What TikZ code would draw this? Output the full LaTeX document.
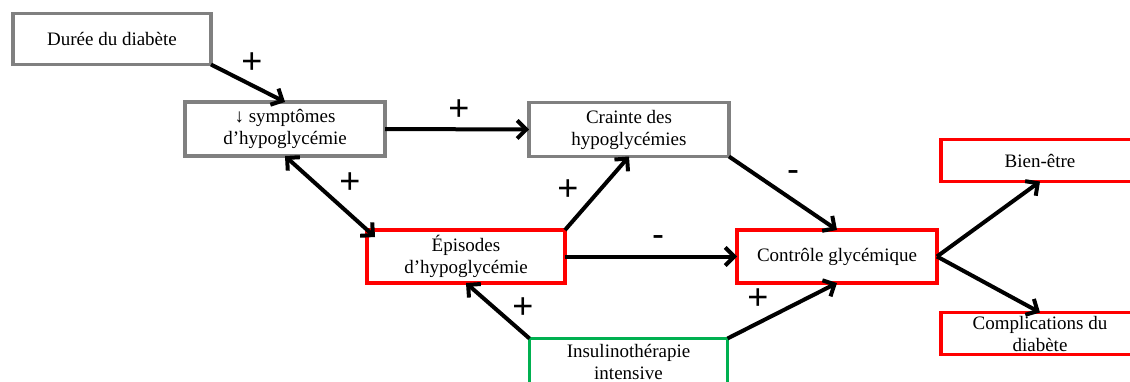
\documentclass[tikz,border=0pt]{standalone}
\usepackage{fontspec}
\setmainfont{Liberation Serif}
\newfontfamily\signfont{Liberation Sans}
\usetikzlibrary{arrows.meta,calc}
\definecolor{boxgray}{HTML}{808080}
\definecolor{boxred}{HTML}{FF0000}
\definecolor{boxgreen}{HTML}{00B050}
\tikzset{
  box/.style={draw, line width=3.5pt, rectangle, outer sep=0pt, inner sep=2pt, align=center,
    font=\fontsize{19}{22}\selectfont, fill=white},
  graybox/.style={box, draw=boxgray},
  redbox/.style={box, draw=boxred},
  greenbox/.style={box, draw=boxgreen},
  link/.style={line width=4pt, -{Straight Barb[length=9pt,width=18pt]}},
  dlink/.style={line width=4pt, {Straight Barb[length=9pt,width=18pt]}-{Straight Barb[length=9pt,width=18pt]}},
  sign/.style={font=\signfont\fontsize{36}{36}\selectfont, inner sep=0pt}
}
\begin{document}
\begin{tikzpicture}[x=1pt,y=-1pt]
\useasboundingbox (0,0) rectangle (1130,381);
\node[graybox, minimum width=198pt, minimum height=51pt] (dur) at (112,39) {Durée du diabète};
\node[graybox, minimum width=200pt, minimum height=54pt] (sym) at (285,129) {↓ symptômes\\d’hypoglycémie};
\node[graybox, minimum width=200pt, minimum height=54pt] (cra) at (629,129.5) {Crainte des\\hypoglycémies};
\node[redbox, minimum width=198pt, minimum height=53pt] (epi) at (466,256.5) {Épisodes\\d’hypoglycémie};
\node[redbox, minimum width=200pt, minimum height=53pt] (con) at (837,256.5) {Contrôle glycémique};
\node[redbox, minimum width=198pt, minimum height=42pt] (bien) at (1040,160.5) {Bien-être};
\node[redbox, minimum width=198pt, minimum height=42pt, text depth=0pt] (comp) at (1040,333.5) {Complications du\\diabète};
\node[greenbox, minimum width=198pt, minimum height=46pt] (ins) at (628.5,361.5) {Insulinothérapie\\intensive};

\draw[link] (dur.south east) -- (sym.north);
\draw[link] (sym.east) -- (cra.west);
\draw[dlink] (sym.south) -- ($(epi.north west)+(8,7)$);
\draw[link] (epi.north east) -- (cra.south);
\draw[link] (epi.east) -- (con.west);
\draw[link] (cra.south east) -- (con.north);
\draw[link] (ins.north west) -- (epi.south);
\draw[link] (ins.north east) -- (con.south);
\draw[link] (con.east) -- (bien.south);
\draw[link] (con.east) -- (comp.north);

\node[sign] (s1) at (252,63) {+};
\node[sign] (s2) at (459,110) {+};
\node[sign] (s3) at (350,183) {+};
\node[sign] (s4) at (568,190) {+};
\node[sign] (s5) at (658,241) {-};
\node[sign] (s6) at (793,176) {-};
\node[sign] (s7) at (523,308) {+};
\node[sign] (s8) at (758,299) {+};
\end{tikzpicture}
\end{document}
